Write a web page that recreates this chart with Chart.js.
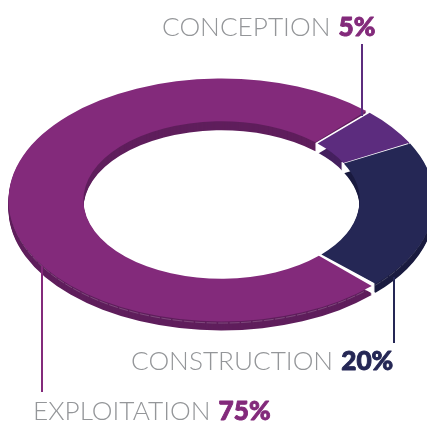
<!DOCTYPE html>
<html>
<head>
<meta charset="utf-8">
<title>Répartition</title>
<style>
  html, body { margin: 0; padding: 0; background: #fff; }
  canvas { display: block; }
</style>
<script src="https://cdn.jsdelivr.net/npm/chart.js@4"></script>
</head>
<body>
<canvas id="ring-chart" width="427" height="423"></canvas>
<script>
const categories = ['CONCEPTION', 'CONSTRUCTION', 'EXPLOITATION'];
const shares = [5, 20, 75];
const topColors = ['#5c2c7e', '#252755', '#832a7b'];
const sideColors = ['#45205f', '#1b1c40', '#5f1e5c'];
const valueColors = ['#832a7b', '#252755', '#832a7b'];

// ring placement and tilt
const ringX = 221.5, ringY = 200, squash = 0.57, depth = 9;

// label text start, baseline, and leader line x / y1 / y2
const labelPos = [[162, 36], [131, 370], [33, 420]];
const leaders = [[362, 44, 116], [394, 277, 343], [42, 266, 392]];

function tilt(ctx, chart) {
  const a = chart.chartArea;
  ctx.translate(ringX, ringY);
  ctx.scale(1, squash);
  ctx.translate(-(a.left + a.right) / 2, -(a.top + a.bottom) / 2);
}

const tiltedRing = {
  id: 'tiltedRing',
  beforeDatasetsDraw(chart) {
    const ctx = chart.ctx;
    const arcs = chart.getDatasetMeta(0).data;
    // side wall: the ring stacked downwards in the darker colours
    for (let d = depth; d > 0; d--) {
      ctx.save();
      ctx.translate(0, d);
      tilt(ctx, chart);
      arcs.forEach((arc, i) => {
        const opts = Object.create(arc.options);
        opts.backgroundColor = sideColors[i];
        const copy = Object.create(arc);
        copy.options = opts;
        arc.draw.call(copy, ctx);
      });
      ctx.restore();
    }
    // faint seam running along the wall
    ctx.save();
    ctx.translate(0, 2.5);
    tilt(ctx, chart);
    ctx.strokeStyle = 'rgba(255,255,255,0.28)';
    ctx.lineWidth = 0.9;
    ctx.setLineDash([10, 1.5]);
    arcs.forEach(arc => {
      const p = arc.getProps(['x', 'y', 'startAngle', 'endAngle', 'outerRadius']);
      ctx.beginPath();
      ctx.arc(p.x, p.y, p.outerRadius, p.startAngle + 0.01, p.endAngle - 0.01);
      ctx.stroke();
    });
    ctx.restore();

    // white cuts between the slices, carried down through the wall
    for (let d = depth; d >= 0; d--) {
      ctx.save();
      ctx.translate(0, d);
      tilt(ctx, chart);
      ctx.strokeStyle = '#fff';
      ctx.lineWidth = 4;
      arcs.forEach(arc => {
        const p = arc.getProps(['x', 'y', 'startAngle', 'innerRadius', 'outerRadius']);
        const cos = Math.cos(p.startAngle), sin = Math.sin(p.startAngle);
        ctx.beginPath();
        ctx.moveTo(p.x + cos * p.innerRadius, p.y + sin * p.innerRadius);
        ctx.lineTo(p.x + cos * p.outerRadius, p.y + sin * p.outerRadius);
        ctx.stroke();
      });
      ctx.restore();
    }

    ctx.save();
    tilt(ctx, chart);
  },
  afterDatasetsDraw(chart) {
    const ctx = chart.ctx;
    ctx.restore();

    // leader lines
    ctx.lineWidth = 2;
    leaders.forEach((l, i) => {
      ctx.strokeStyle = topColors[i];
      ctx.beginPath();
      ctx.moveTo(l[0], l[1]);
      ctx.lineTo(l[0], l[2]);
      ctx.stroke();
    });

    // labels
    ctx.textBaseline = 'alphabetic';
    ctx.textAlign = 'left';
    categories.forEach((name, i) => {
      const [x, y] = labelPos[i];
      ctx.font = '300 26.2px Lato';
      ctx.fillStyle = '#949699';
      ctx.fillText(name, x, y);
      const w = ctx.measureText(name + ' ').width;
      ctx.font = '900 26.2px Lato';
      ctx.fillStyle = valueColors[i];
      ctx.strokeStyle = valueColors[i];
      ctx.lineWidth = 0.9;
      ctx.lineJoin = 'round';
      ctx.fillText(shares[i] + '%', x + w + 1, y);
      ctx.strokeText(shares[i] + '%', x + w + 1, y);
    });
  }
};

new Chart(document.getElementById('ring-chart'), {
  type: 'doughnut',
  data: {
    labels: categories,
    datasets: [{
      data: shares,
      backgroundColor: topColors,
      borderWidth: 0,
      spacing: 3,
      radius: 211.5,
      clip: false
    }]
  },
  options: {
    responsive: false,
    animation: false,
    cutout: '64.6%',
    rotation: 44,
    layout: { padding: 0 },
    plugins: {
      legend: { display: false },
      tooltip: { enabled: false }
    }
  },
  plugins: [tiltedRing]
});
</script>
</body>
</html>
